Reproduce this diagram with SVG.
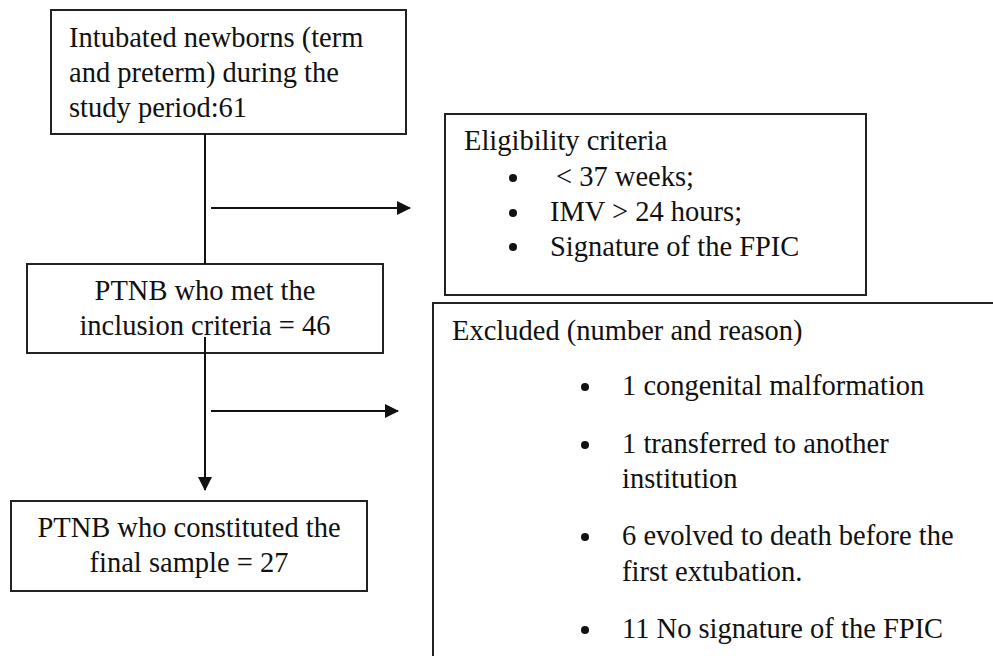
<svg xmlns="http://www.w3.org/2000/svg" width="993" height="656" viewBox="0 0 993 656">
<style>
.box{fill:#fff;stroke:#222;stroke-width:2}
.t{font-family:"Liberation Serif","Times New Roman",serif;font-size:28.5px;fill:#111}
.c{text-anchor:middle}
.ln{stroke:#111;stroke-width:2;fill:none}
</style>
<defs>
<marker id="ahd" markerWidth="14" markerHeight="14" refX="13" refY="7" orient="auto" markerUnits="userSpaceOnUse" viewBox="0 0 14 14">
<path d="M0,0 L14,7 L0,14 z" fill="#111"/>
</marker>
</defs>
<g id="n1">
<rect class="box" x="51" y="10" width="355" height="124"/>
<text class="t" x="69" y="47">Intubated newborns (term</text>
<text class="t" x="69" y="82">and preterm) during the</text>
<text class="t" x="69" y="117">study period:61</text>
</g>
<g id="n2">
<rect class="box" x="27" y="264" width="356" height="89"/>
<text class="t c" x="205" y="300">PTNB who met the</text>
<text class="t c" x="205" y="335">inclusion criteria = 46</text>
</g>
<g id="n3">
<rect class="box" x="11" y="501" width="356" height="90"/>
<text class="t c" x="189" y="537">PTNB who constituted the</text>
<text class="t c" x="189" y="572">final sample = 27</text>
</g>
<g id="n4">
<rect class="box" x="445" y="114" width="421" height="181"/>
<text class="t" x="464" y="150">Eligibility criteria</text>
<circle cx="513" cy="178" r="4" fill="#111"/>
<circle cx="513" cy="213" r="4" fill="#111"/>
<circle cx="513" cy="247" r="4" fill="#111"/>
<text class="t" x="556" y="186">&lt; 37 weeks;</text>
<text class="t" x="550" y="221">IMV &gt; 24 hours;</text>
<text class="t" x="550" y="256">Signature of the FPIC</text>
</g>
<g id="n5">
<rect class="box" x="433" y="303" width="570" height="370"/>
<text class="t" x="452" y="340">Excluded (number and reason)</text>
<circle cx="585" cy="387" r="4" fill="#111"/>
<circle cx="585" cy="445" r="4" fill="#111"/>
<circle cx="585" cy="537" r="4" fill="#111"/>
<circle cx="585" cy="630" r="4" fill="#111"/>
<text class="t" x="622" y="395">1 congenital malformation</text>
<text class="t" x="622" y="453">1 transferred to another</text>
<text class="t" x="622" y="488">institution</text>
<text class="t" x="622" y="545">6 evolved to death before the</text>
<text class="t" x="622" y="581">first extubation.</text>
<text class="t" x="622" y="638">11 No signature of the FPIC</text>
</g>
<g id="connectors">
<line class="ln" x1="205" y1="134" x2="205" y2="264"/>
<line class="ln" x1="211" y1="208" x2="410" y2="208" marker-end="url(#ahd)"/>
<line class="ln" x1="205" y1="337" x2="205" y2="490" marker-end="url(#ahd)"/>
<line class="ln" x1="211" y1="411" x2="398" y2="411" marker-end="url(#ahd)"/>
</g>
</svg>
